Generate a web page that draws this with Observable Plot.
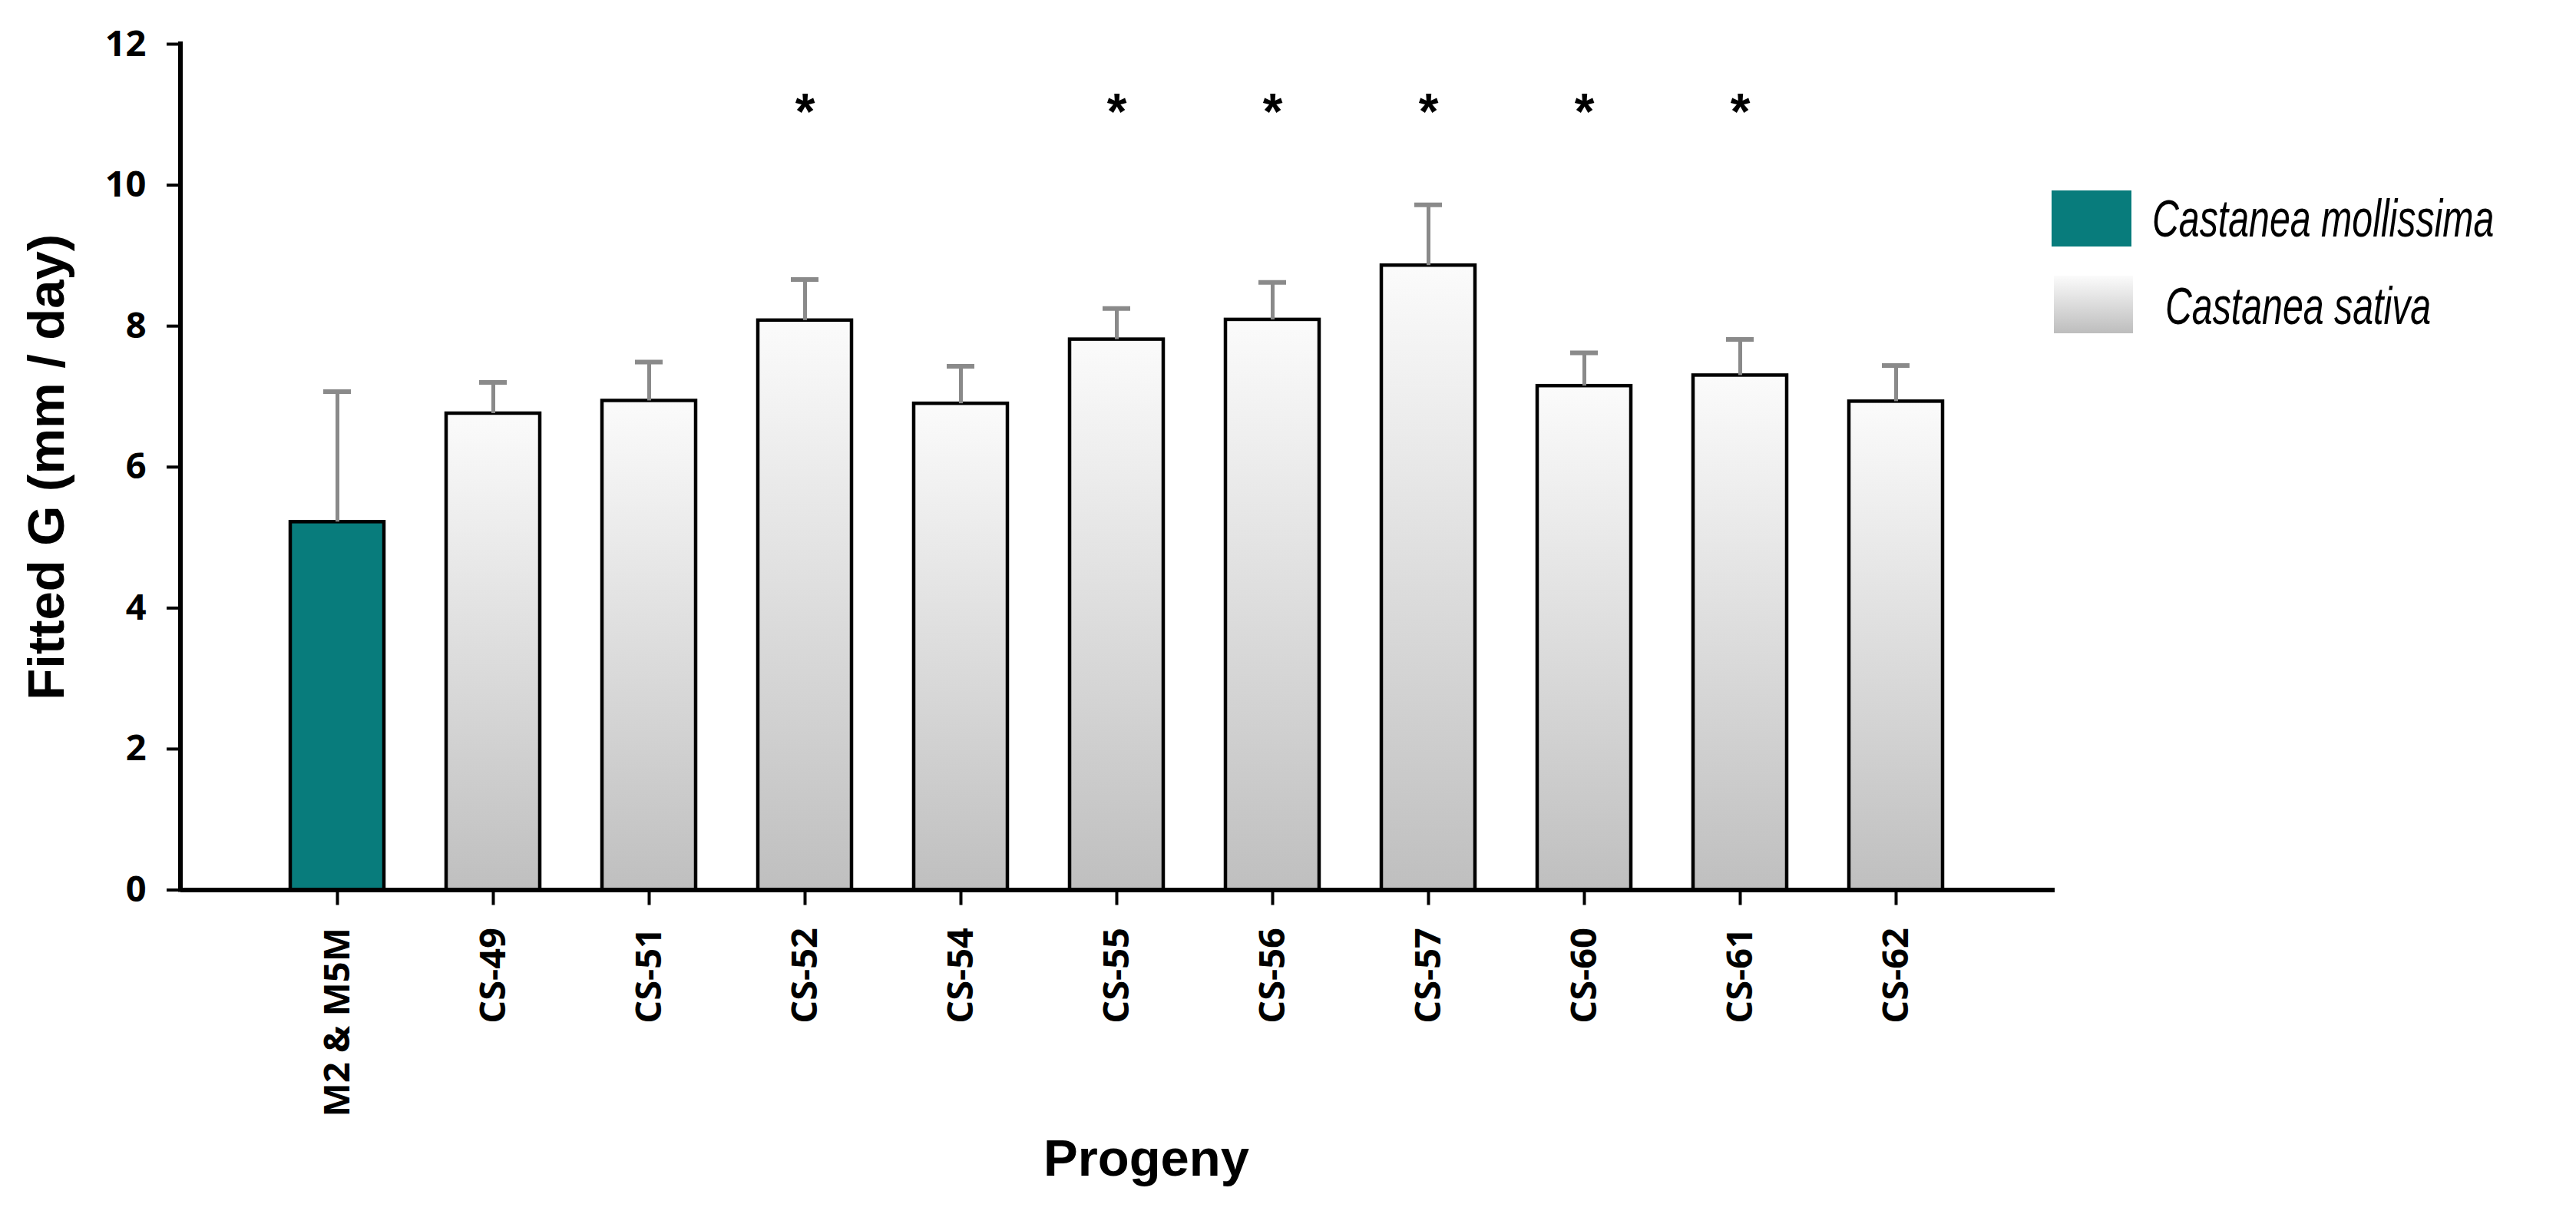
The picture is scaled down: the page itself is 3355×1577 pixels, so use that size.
<!DOCTYPE html>
<html>
<head>
<meta charset="utf-8">
<script src="https://cdn.jsdelivr.net/npm/d3@7"></script>
<script src="https://cdn.jsdelivr.net/npm/@observablehq/plot@0.6"></script>
<style>
  html, body { margin: 0; padding: 0; background: #fff; }
  #wrap { position: relative; width: 3355px; height: 1577px; overflow: hidden; }
  .swatch { position: absolute; }
  .legend-text { position: absolute; font-family: "Liberation Sans", Arial, sans-serif; font-style: italic; font-size: 68px; line-height: 1; color: #000; transform-origin: left center; transform: scaleX(0.71); white-space: nowrap; }
</style>
</head>
<body>
<svg width="0" height="0" style="position:absolute">
  <defs>
    <linearGradient id="sativaGrad" x1="0" y1="0" x2="0" y2="1">
      <stop offset="0" stop-color="#fbfbfb"/>
      <stop offset="1" stop-color="#bfbfbf"/>
    </linearGradient>
  </defs>
</svg>
<div id="wrap"></div>
<script>
// ---- data ----
const progeny = ["M2 & M5M", "CS-49", "CS-51", "CS-52", "CS-54", "CS-55", "CS-56", "CS-57", "CS-60", "CS-61", "CS-62"];
const fittedG = [5.22, 6.76, 6.94, 8.08, 6.90, 7.81, 8.09, 8.86, 7.15, 7.30, 6.93];
const upperError = [7.07, 7.20, 7.49, 8.66, 7.43, 8.25, 8.62, 9.72, 7.62, 7.81, 7.44];
const species = ["Castanea mollissima", "Castanea sativa", "Castanea sativa", "Castanea sativa", "Castanea sativa", "Castanea sativa", "Castanea sativa", "Castanea sativa", "Castanea sativa", "Castanea sativa", "Castanea sativa"];
const significant = ["CS-52", "CS-55", "CS-56", "CS-57", "CS-60", "CS-61"];
const yTicks = [0, 2, 4, 6, 8, 10, 12];
const legendLabels = ["Castanea mollissima", "Castanea sativa"];

const teal = "#087c7c";
const errGray = "#8a8a8a";

const rows = progeny.map((p, i) => ({name: p, value: fittedG[i], upper: upperError[i], species: species[i]}));

const W = 3355, H = 1577;

// y-axis domain line drawn from the frame dimensions
const yAxisLine = (index, scales, values, dims) => {
  const l = dims.marginLeft;
  const line = d3.create("svg:line")
    .attr("x1", l).attr("x2", l)
    .attr("y1", dims.marginTop - 3).attr("y2", dims.height - dims.marginBottom + 3)
    .attr("stroke", "#000").attr("stroke-width", 6);
  return line.node();
};

const chart = Plot.plot({
  width: W,
  height: H,
  marginLeft: 235,
  marginRight: W - 2676,
  marginTop: 57,
  marginBottom: H - 1158.5,
  style: {fontFamily: "'Open Sans', sans-serif", fontSize: "47px", fontWeight: 700, color: "#000", background: "transparent"},
  x: {type: "band", domain: progeny, range: [334.2, 2573.8], paddingInner: 0.4, paddingOuter: 0.2, label: null},
  y: {domain: [0, 12], label: null},
  marks: [
    Plot.barY(rows, {filter: d => d.species === legendLabels[0], x: "name", y: "value", fill: teal, stroke: "#000", strokeWidth: 4.5}),
    Plot.barY(rows, {filter: d => d.species === legendLabels[1], x: "name", y: "value", fill: "url(#sativaGrad)", stroke: "#000", strokeWidth: 4.5}),
    Plot.ruleX(rows, {x: "name", y1: "value", y2: "upper", stroke: errGray, strokeWidth: 5}),
    Plot.tickY(rows, {x: "name", y: "upper", stroke: errGray, strokeWidth: 6, inset: 43}),
    Plot.text(significant, {x: d => d, frameAnchor: "top", dy: 89, text: () => "*", lineAnchor: "middle",
      fontFamily: "'Liberation Sans', Arial, sans-serif", fontSize: 66, fontWeight: 700, fill: "#000"}),
    Plot.ruleY([0], {stroke: "#000", strokeWidth: 6}),
    yAxisLine,
    Plot.axisY({ticks: yTicks, tickFormat: d => String(d), tickSize: 18, tickPadding: 27, strokeWidth: 4, label: null}),
    Plot.axisX({tickRotate: -90, tickSize: 20, tickPadding: 29, strokeWidth: 4, label: null}),
    Plot.text(["Fitted G (mm / day)"], {frameAnchor: "left", dx: -153, rotate: -90, lineAnchor: "bottom", textAnchor: "middle",
      fontFamily: "'Liberation Sans', Arial, sans-serif", fontSize: 67, fontWeight: 700, fill: "#000"}),
    Plot.text(["Progeny"], {frameAnchor: "bottom", dx: 37, dy: 372, lineAnchor: "bottom", textAnchor: "middle",
      fontFamily: "'Liberation Sans', Arial, sans-serif", fontSize: 67, fontWeight: 700, fill: "#000"})
  ]
});

const wrap = document.getElementById("wrap");
wrap.appendChild(chart);

// legend (right side)
const legendSpec = [
  {label: legendLabels[0], bg: teal, box: [2672, 248, 104, 73], text: [2803, 284]},
  {label: legendLabels[1], bg: "linear-gradient(to bottom, #fbfbfb, #bdbdbd)", box: [2675, 359, 103, 75], text: [2820, 398]}
];
for (const s of legendSpec) {
  const sw = document.createElement("div");
  sw.className = "swatch";
  sw.style.left = s.box[0] + "px";
  sw.style.top = s.box[1] + "px";
  sw.style.width = s.box[2] + "px";
  sw.style.height = s.box[3] + "px";
  sw.style.background = s.bg;
  wrap.appendChild(sw);
  const t = document.createElement("div");
  t.className = "legend-text";
  t.textContent = s.label;
  t.style.left = s.text[0] + "px";
  t.style.top = (s.text[1] - 34) + "px";
  wrap.appendChild(t);
}
</script>
</body>
</html>
